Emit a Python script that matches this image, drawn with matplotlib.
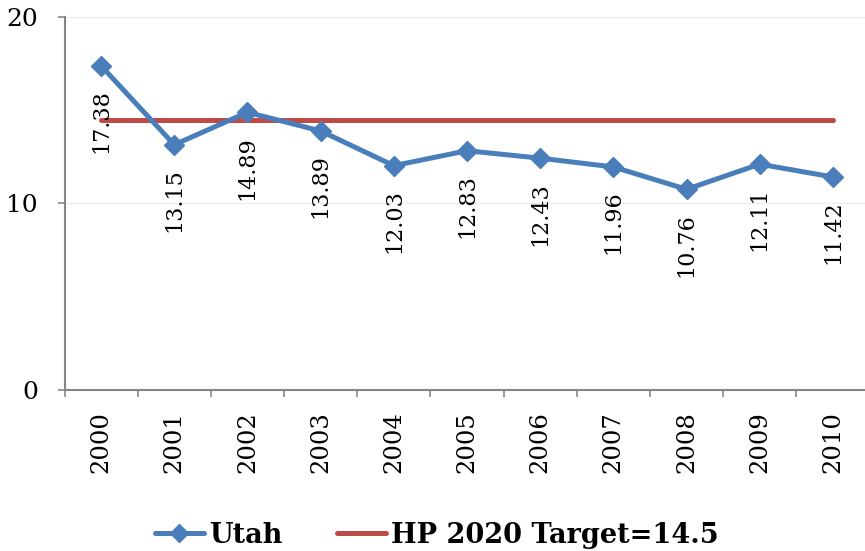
import matplotlib
matplotlib.use("Agg")
import matplotlib.pyplot as plt
from matplotlib.ticker import FixedLocator

years = ["2000", "2001", "2002", "2003", "2004", "2005", "2006", "2007", "2008", "2009", "2010"]
utah = [17.38, 13.15, 14.89, 13.89, 12.03, 12.83, 12.43, 11.96, 10.76, 12.11, 11.42]
target = [14.5] * len(years)
yticks = [0, 10, 20]

plt.rcParams['font.family'] = ['DejaVu Serif']

fig = plt.figure(figsize=(8.65, 5.51), dpi=100)
ax = fig.add_axes([64.5/865, 161/551, 805/865, 373/551])

x = list(range(len(years)))
blue = '#4a7ebb'
red = '#be4b48'

ax.plot(x, utah, color=blue, lw=3.6, marker='D', markersize=10, label='Utah', zorder=3,
        solid_capstyle='round')
ax.plot(x, target, color=red, lw=3.6, label='HP 2020 Target=14.5', zorder=2,
        solid_capstyle='round')

for xi, v in zip(x, utah):
    ax.annotate(f"{v:.2f}", (xi, v), xytext=(0, -17), textcoords='offset points',
                rotation=90, ha='center', va='top', fontsize=16, color='black', zorder=4)

ax.set_xlim(-0.5, len(years) - 0.5)
ax.set_ylim(0, 20)
ax.set_yticks(yticks)
ax.set_yticklabels([str(t) for t in yticks], fontsize=18)
ax.set_xticks(x)
ax.set_xticklabels(years, rotation=90, fontsize=17.5)
ax.xaxis.set_minor_locator(FixedLocator([i - 0.5 for i in range(len(years) + 1)]))
ax.tick_params(axis='x', which='major', length=0, pad=15)
ax.tick_params(axis='x', which='minor', length=5, width=1.2, color='#868686', direction='out')
ax.tick_params(axis='y', length=5, width=1.2, color='#868686', pad=14)

ax.grid(axis='y', color='#ececec', lw=0.8)
ax.set_axisbelow(True)
for s in ['top', 'right']:
    ax.spines[s].set_visible(False)
for s in ['left', 'bottom']:
    ax.spines[s].set_color('#868686')
    ax.spines[s].set_linewidth(1.5)

fig.legend(loc='center', bbox_to_anchor=(0.505, 0.029), ncol=2, frameon=False,
           prop={'weight': 'bold', 'size': 19.5}, handlelength=1.8, handletextpad=0.2,
           columnspacing=2.0, markerscale=0.9)

fig.savefig('out.png', dpi=100)
